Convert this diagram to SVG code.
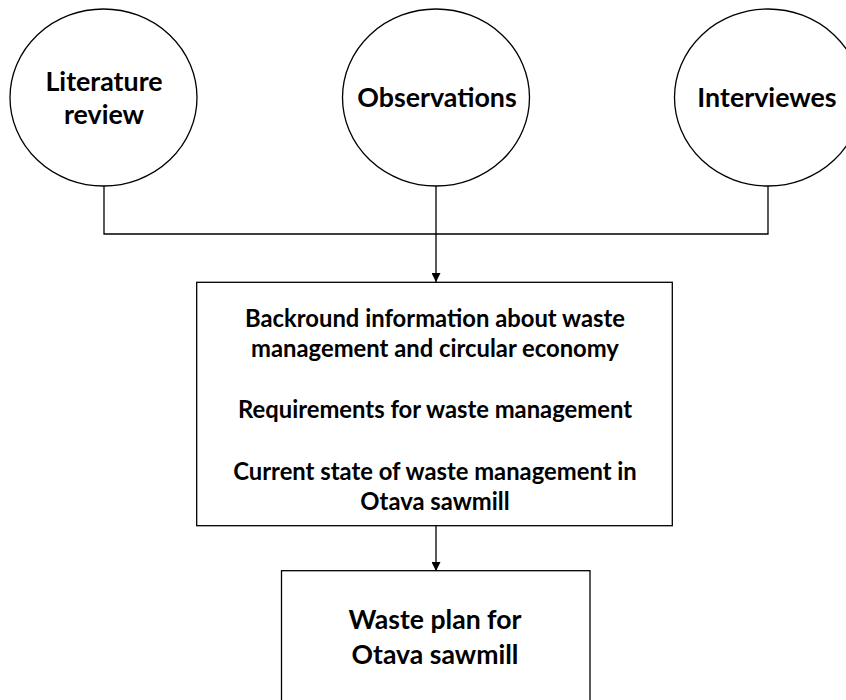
<svg xmlns="http://www.w3.org/2000/svg" width="846" height="700" viewBox="0 0 846 700">
<style>
.shape{fill:#fff;stroke:#000;stroke-width:1.3}
.conn{fill:none;stroke:#000;stroke-width:1.3}
text{font-family:Lato,"Open Sans","Liberation Sans",sans-serif;font-weight:bold;fill:#000;text-anchor:middle}
.t1{font-size:26.8px}
.t2{font-size:23.8px}
.t3{font-size:26.6px}
</style>
<defs>
<marker id="arr" viewBox="0 0 10 10" refX="10" refY="5" markerWidth="9" markerHeight="9" markerUnits="userSpaceOnUse" orient="auto">
<path d="M0,0 L10,5 L0,10 Z" fill="#000"/>
</marker>
</defs>
<rect width="846" height="700" fill="#fff"/>
<g id="connectors">
<path class="conn" d="M104,186 V234 H768 V186"/>
<path class="conn" d="M436,186 V282" marker-end="url(#arr)"/>
<path class="conn" d="M436,526 V571" marker-end="url(#arr)"/>
</g>
<g id="literature">
<ellipse class="shape" cx="103.5" cy="97.5" rx="93.5" ry="88.5"/>
<text class="t1" x="104" y="91">Literature</text>
<text class="t1" x="104" y="124">review</text>
</g>
<g id="observations">
<ellipse class="shape" cx="436" cy="97.5" rx="93.5" ry="88.5"/>
<text class="t1" x="437" y="107">Observations</text>
</g>
<g id="interviewes">
<ellipse class="shape" cx="768" cy="97.5" rx="93.5" ry="88.5"/>
<text class="t1" x="767" y="107">Interviewes</text>
</g>
<g id="background">
<rect class="shape" x="196.7" y="282.3" width="475.6" height="243.4"/>
<text class="t2" x="435" y="327">Backround information about waste</text>
<text class="t2" x="435" y="357">management and circular economy</text>
<text class="t2" x="435" y="418">Requirements for waste management</text>
<text class="t2" x="435" y="480">Current state of waste management in</text>
<text class="t2" x="435" y="510">Otava sawmill</text>
</g>
<g id="wasteplan">
<rect class="shape" x="281.5" y="570.7" width="308.5" height="140"/>
<text class="t3" x="435" y="629">Waste plan for</text>
<text class="t3" x="435" y="664">Otava sawmill</text>
</g>
</svg>
